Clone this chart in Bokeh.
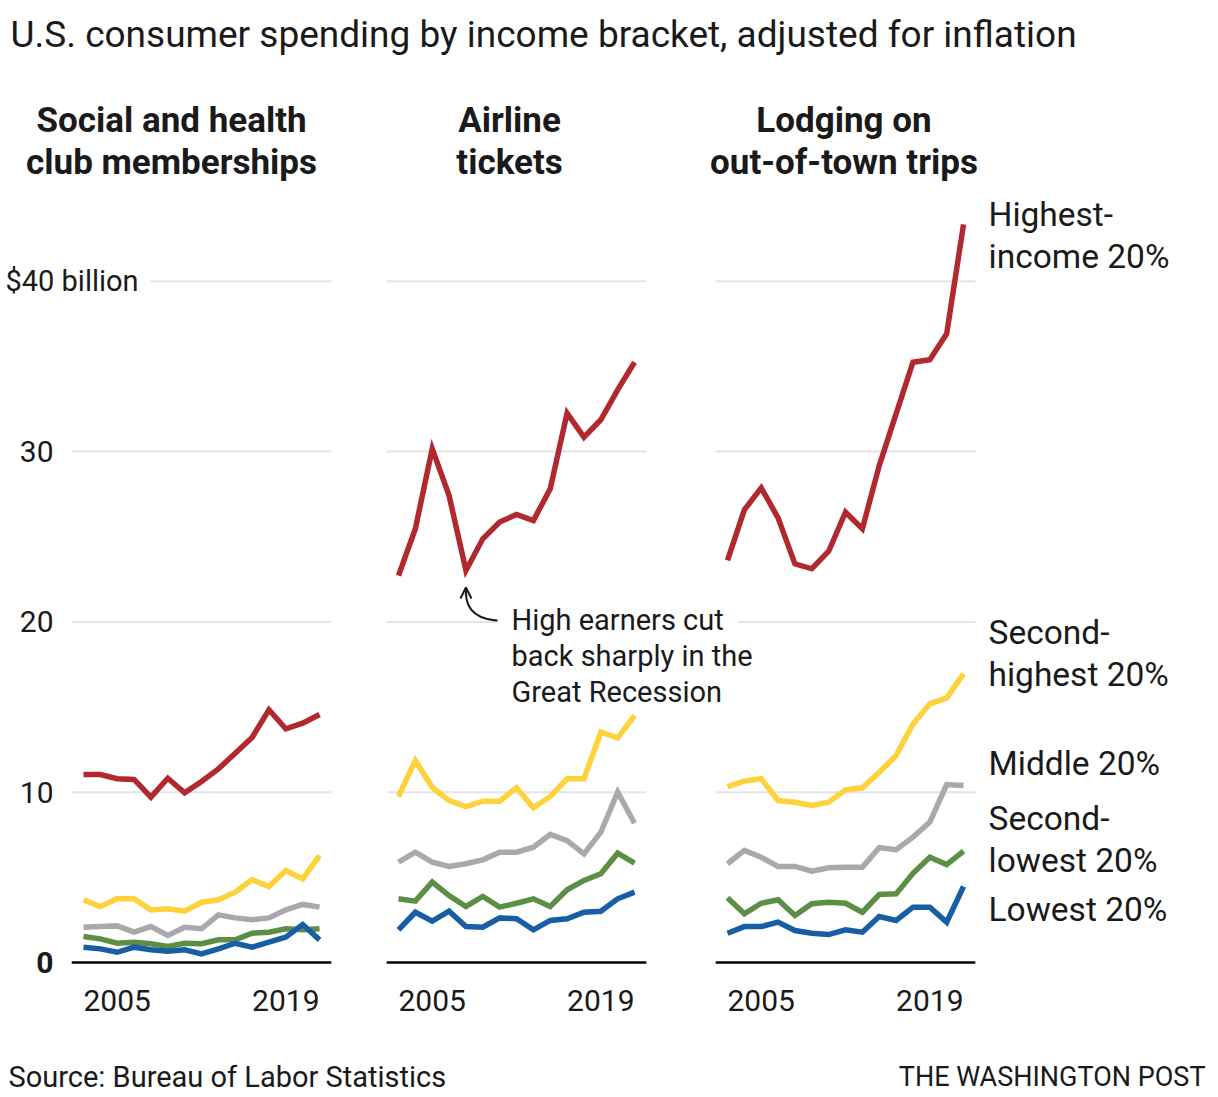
from bokeh.plotting import figure
from bokeh.models import Range1d, Label, Arrow, OpenHead
from bokeh.embed import file_html
from bokeh.resources import INLINE

# ---- data: inflation-adjusted spending, billions of dollars ----
years = list(range(2005, 2020))

bracket_names = ["Highest-income 20%", "Second-highest 20%", "Middle 20%",
                 "Second-lowest 20%", "Lowest 20%"]
bracket_colors = ["#b2282f", "#fdd23b", "#a9a9ad", "#5b8f46", "#175ea5"]

clubs_highest = [11.04, 11.04, 10.79, 10.75, 9.71, 10.82, 9.96, 10.63, 11.37, 12.29, 13.21, 14.84, 13.72, 14.05, 14.56]
clubs_second_highest = [3.68, 3.29, 3.74, 3.74, 3.09, 3.15, 3.01, 3.54, 3.68, 4.13, 4.86, 4.46, 5.40, 4.91, 6.28]
clubs_middle = [2.07, 2.11, 2.15, 1.78, 2.11, 1.59, 2.07, 1.98, 2.80, 2.62, 2.51, 2.62, 3.09, 3.41, 3.25]
clubs_second_lowest = [1.53, 1.39, 1.13, 1.19, 1.10, 0.94, 1.13, 1.10, 1.33, 1.33, 1.72, 1.78, 1.98, 1.92, 1.98]
clubs_lowest = [0.90, 0.80, 0.60, 0.90, 0.75, 0.66, 0.75, 0.51, 0.80, 1.13, 0.90, 1.19, 1.49, 2.23, 1.33]

air_highest = [22.72, 25.47, 30.16, 27.42, 23.02, 24.88, 25.86, 26.31, 25.95, 27.82, 32.26, 30.85, 31.87, 33.63, 35.25]
air_second_highest = [9.75, 11.86, 10.29, 9.51, 9.16, 9.47, 9.47, 10.26, 9.08, 9.75, 10.79, 10.79, 13.52, 13.19, 14.50]
air_middle = [5.89, 6.48, 5.89, 5.64, 5.80, 6.03, 6.48, 6.48, 6.77, 7.52, 7.16, 6.38, 7.65, 10.00, 8.18]
air_second_lowest = [3.74, 3.60, 4.72, 3.93, 3.29, 3.88, 3.25, 3.48, 3.74, 3.29, 4.27, 4.82, 5.21, 6.42, 5.83]
air_lowest = [1.92, 2.95, 2.43, 3.01, 2.11, 2.07, 2.62, 2.57, 1.92, 2.47, 2.57, 2.95, 3.01, 3.74, 4.13]

lodging_highest = [23.61, 26.58, 27.87, 26.11, 23.41, 23.12, 24.15, 26.44, 25.47, 29.18, 32.22, 35.25, 35.39, 36.92, 43.34]
lodging_second_highest = [10.33, 10.65, 10.79, 9.51, 9.41, 9.22, 9.41, 10.14, 10.26, 11.17, 12.15, 14.00, 15.19, 15.54, 16.95]
lodging_middle = [5.80, 6.58, 6.18, 5.64, 5.64, 5.36, 5.56, 5.60, 5.60, 6.74, 6.62, 7.36, 8.24, 10.45, 10.39]
lodging_second_lowest = [3.80, 2.86, 3.48, 3.68, 2.76, 3.45, 3.54, 3.48, 2.95, 3.99, 4.03, 5.24, 6.18, 5.75, 6.54]
lodging_lowest = [1.72, 2.11, 2.11, 2.37, 1.88, 1.72, 1.64, 1.92, 1.78, 2.70, 2.47, 3.25, 3.25, 2.37, 4.46]

panel_titles = [["Social and health", "club memberships"],
                ["Airline", "tickets"],
                ["Lodging on", "out-of-town trips"]]
panel_series = [
    [clubs_highest, clubs_second_highest, clubs_middle, clubs_second_lowest, clubs_lowest],
    [air_highest, air_second_highest, air_middle, air_second_lowest, air_lowest],
    [lodging_highest, lodging_second_highest, lodging_middle, lodging_second_lowest, lodging_lowest],
]
y_ticks = [0, 10, 20, 30, 40]
y_tick_labels = ["0", "10", "20", "30", "$40 billion"]
x_tick_labels = ["2005", "2019"]

# ---- layout constants (page pixels) ----
W, H = 1218, 1097
PX_PER_YEAR = 16.86
PX_PER_UNIT = 17.03
ZERO_Y = 962                        # page y of the $0 baseline
PANEL_FIRST_X = [83, 398, 727]      # page x of each panel's first year
PAD_YEARS = 0.7                     # grid overhang either side of the data
FONT = "Roboto"
INK = "#1a1a1a"
GRID = "#e4e4e4"
LINE_W = 5.5


def panel_range(first_px):
    start = years[0] - first_px / PX_PER_YEAR
    return Range1d(start, start + W / PX_PER_YEAR)


y_start = -(H - ZERO_Y) / PX_PER_UNIT
range_names = ["default", "p2", "p3"]

# the plot frame fills the whole canvas so that all text can sit anywhere
p = figure(width=W, height=H, output_backend="svg", toolbar_location=None,
           x_axis_location=None, y_axis_location=None,
           x_range=panel_range(PANEL_FIRST_X[0]),
           y_range=Range1d(y_start, y_start + H / PX_PER_UNIT),
           min_border=0, background_fill_color="white", border_fill_color="white",
           outline_line_color=None)
p.extra_x_ranges = {"p2": panel_range(PANEL_FIRST_X[1]),
                    "p3": panel_range(PANEL_FIRST_X[2])}
p.grid.visible = False


def at(px, py):
    """page pixel -> frame-relative screen units"""
    return px, H - py


def label(text, px, py, size, align="left", bold=False, color=INK, **kw):
    sx, sy = at(px, py)
    p.add_layout(Label(x=sx, y=sy, x_units="screen", y_units="screen", text=text,
                       text_font=FONT, text_font_size=f"{size}px",
                       text_font_style="bold" if bold else "normal",
                       text_align=align, text_baseline="middle",
                       text_color=color, **kw))


# gridlines and lines for each panel
grid_vals = [v for v in y_ticks if v > 0]
for name, series in zip(range_names, panel_series):
    x0 = years[0] - PAD_YEARS
    x1 = years[-1] + PAD_YEARS
    p.segment(x0=[x0] * len(grid_vals), y0=grid_vals, x1=[x1] * len(grid_vals), y1=grid_vals,
              line_color=GRID, line_width=2, x_range_name=name)
    for vals, color in zip(series, bracket_colors):
        p.line(years, vals, line_color=color, line_width=LINE_W, line_join="miter",
               x_range_name=name)
    p.segment(x0=[x0], y0=[0], x1=[x1], y1=[0], line_color="black", line_width=2.5,
              x_range_name=name)
    # year labels at either end of the panel
    for yr, txt, align in [(years[0], x_tick_labels[0], "left"),
                           (years[-1], x_tick_labels[1], "right")]:
        p.add_layout(Label(x=yr, y=H - 1000, x_units="data", y_units="screen",
                           x_range_name=name, text=txt, text_font=FONT,
                           text_font_size="30px", text_align=align,
                           text_baseline="middle", text_color=INK))

# value axis labels on the first panel
for v, txt in zip(y_ticks, y_tick_labels):
    if v == 40:
        pad = 12
        p.add_layout(Label(x=5 - pad, y=v, x_units="screen", y_units="data",
                           text=txt, text_font=FONT, text_font_size="29px",
                           text_align="left", text_baseline="middle", text_color=INK,
                           background_fill_color="white", padding=pad))
    else:
        p.add_layout(Label(x=53, y=v, x_units="screen", y_units="data",
                           text=txt, text_font=FONT, text_font_size="30px",
                           text_font_style="bold" if v == 0 else "normal",
                           text_align="right", text_baseline="middle", text_color=INK))

# titles
label("U.S. consumer spending by income bracket, adjusted for inflation", 10, 34, 37)
for (l1, l2), cx in zip(panel_titles, [171, 509, 843.5]):
    label(l1, cx, 120, 35, align="center", bold=True)
    label(l2, cx, 162, 35, align="center", bold=True)

# bracket labels on the right
RIGHT_SIZE = 33.5
label("Highest-", 988, 214, RIGHT_SIZE)
label("income 20%", 988, 256, RIGHT_SIZE)
label("Second-", 988, 632, RIGHT_SIZE)
label("highest 20%", 988, 674, RIGHT_SIZE)
label("Middle 20%", 988, 763, RIGHT_SIZE)
label("Second-", 988, 818, RIGHT_SIZE)
label("lowest 20%", 988, 860, RIGHT_SIZE)
label("Lowest 20%", 988, 909, RIGHT_SIZE)

# recession note on the airline panel
low_i = 4
tip_x = years[low_i]
tip_y = air_highest[low_i] - 1.0
note_pad = 14
label("High earners cut", 511 - note_pad, 619, 29,
      background_fill_color="white", padding=note_pad)
label("back sharply in the", 511, 655, 29)
label("Great Recession", 511, 691, 29)
p.quadratic(x0=[tip_x], y0=[tip_y - 0.3], x1=[tip_x + 2.2], y1=[tip_y - 1.95],
            cx=[tip_x], cy=[tip_y - 1.95], line_color=INK, line_width=2,
            x_range_name="p2")
p.add_layout(Arrow(end=OpenHead(size=11, line_width=2, line_color=INK),
                   x_start=tip_x, y_start=tip_y - 0.5, x_end=tip_x, y_end=tip_y,
                   line_width=2, line_color=INK, x_range_name="p2"))

# footer
label("Source: Bureau of Labor Statistics", 8, 1076, 29)
label("THE WASHINGTON POST", 1205, 1076, 27, align="right")

open("out.html", "w").write(file_html(p, INLINE))
